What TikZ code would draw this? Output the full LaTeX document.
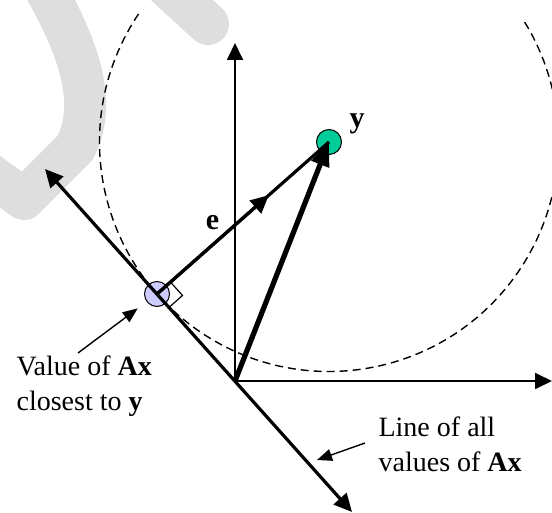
\documentclass[tikz,border=0pt]{standalone}
\usepackage{fontspec}
\setmainfont{Liberation Serif}
\usetikzlibrary{arrows.meta,calc}
\definecolor{projblue}{RGB}{204,204,255}
\definecolor{ygreen}{RGB}{0,204,153}
\begin{document}
\begin{tikzpicture}[x=.5pt,y=.5pt,>={Triangle[length=9pt,width=8.5pt]},line width=1.6pt,
  font=\fontsize{14pt}{17.5pt}\selectfont,
  axis/.style={line width=.9pt,->,>={Triangle[length=8.5pt,width=8pt]}},
  dot/.style={circle,draw,line width=.5pt,inner sep=0pt,minimum size=12.5pt},
  pointer/.style={line width=.7pt,->,>={Triangle[length=7.5pt,width=6pt]}},
  sym/.style={font=\fontsize{15pt}{18pt}\selectfont\bfseries,inner sep=0pt},
  wmark/.style={black!13,line width=21pt,line join=round,line cap=round}]
  \useasboundingbox (0,0) rectangle (552,-513);
  \draw[wmark] (40,20) .. controls (75,-40) and (100,-100) .. (75,-148) -- (24,-199) -- (-15,-171);
  \draw[wmark] (160,20) -- (208,-24);
  \coordinate (O) at (235,-381);
  \coordinate (xend) at (552,-381);
  \coordinate (yend) at (235,-43);
  \coordinate (lt) at (45,-169);
  \coordinate (lb) at (352,-512);
  \draw[dash pattern=on 4pt off 2.5pt,line width=.7pt] ($(329,-142)+(146.1:114.75pt)$) arc[start angle=146.1,end angle=392.7,radius=114.75pt];
  \node[dot,fill=projblue] (P) at (157,-294) {};
  \node[dot,fill=ygreen] (Y) at (329,-142) {};
  \draw[axis] (O) -- (yend);
  \draw[axis] (O) -- (xend);
  \draw[<->] (lb) -- (lt);
  \draw (P.center) -- (Y.center);
  \draw[->] (P.center) -- ($(P)!.65!(Y)$);
  \draw[->,line width=2.6pt,>={Triangle[length=12pt,width=9pt]}] (O) -- (Y.center);
  \coordinate (ra1) at ($(P)!9pt!(Y)$);
  \coordinate (ra2) at ($(P)!9pt!(O)$);
  \draw[line width=.6pt] (ra1) -- ($(ra1)+(ra2)-(P)$) -- (ra2);
  \node[sym,anchor=base] (ylbl) at (357,-128) {y};
  \node[sym,anchor=base] (elbl) at (212.5,-230) {e};
  \node[anchor=base west,align=left,inner sep=0pt] (vlbl) at (15,-411) {Value of \textbf{Ax}\\closest to \textbf{y}};
  \node[anchor=base west,align=left,inner sep=0pt] (llbl) at (377,-472) {Line of all\\values of \textbf{Ax}};
  \coordinate (vptr) at (78,-353);
  \coordinate (lptr) at (365,-443);
  \coordinate (lhit) at (317,-460);
  \draw[pointer,shorten >=5.5pt] (vptr) -- (P);
  \draw[pointer] (lptr) -- (lhit);
\end{tikzpicture}
\end{document}
